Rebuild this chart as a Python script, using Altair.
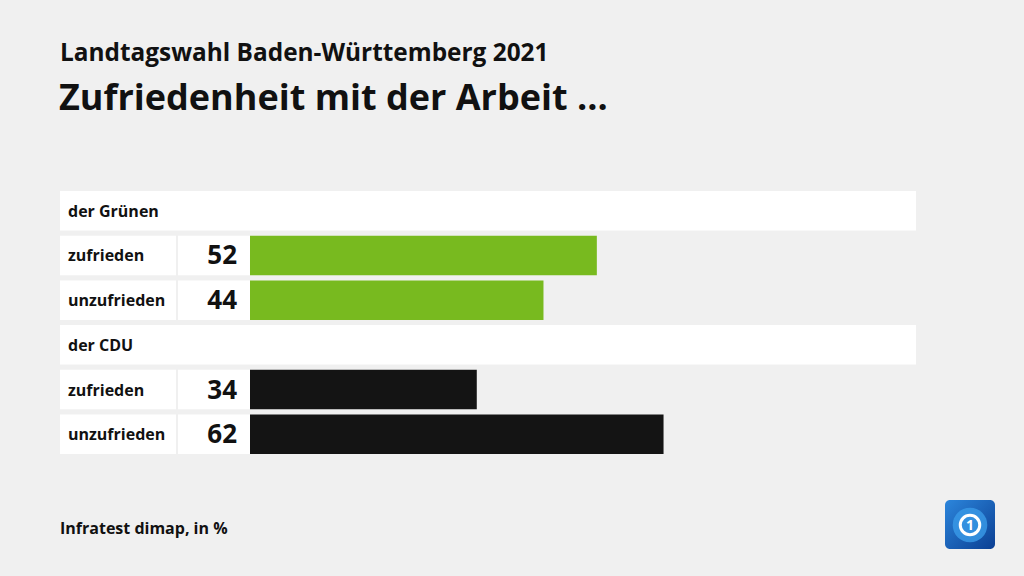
import altair as alt
import pandas as pd

# ---- data ----
title = "Landtagswahl Baden-Württemberg 2021"
subtitle = "Zufriedenheit mit der Arbeit ..."
source = "Infratest dimap, in %"
groups = ["der Grünen", "der CDU"]
answers = ["zufrieden", "unzufrieden"]
values_gruene = [52, 44]
values_cdu = [34, 62]
group_colors = ["#78ba1f", "#141414"]

FONT = "Open Sans"
values = [values_gruene, values_cdu]
rows = []
for gi, g in enumerate(groups):
    rows.append({"row": g, "kind": "header", "label": g, "value": None, "party": g})
    for ai, a in enumerate(answers):
        rows.append({"row": f"{g}|{a}", "kind": "item", "label": a,
                     "value": values[gi][ai], "party": g})
df = pd.DataFrame(rows)
order = list(df["row"])

W, H = 857, 263
y_enc = alt.Y("row:N", sort=order, axis=None,
              scale=alt.Scale(paddingInner=0.116, paddingOuter=0))

base = alt.Chart(df)
headers = base.transform_filter("datum.kind == 'header'")
items = base.transform_filter("datum.kind == 'item'")

header_box = headers.mark_rect(color="white").encode(
    y=y_enc, x=alt.value(0), x2=alt.value(856))
label_box = items.mark_rect(color="white").encode(
    y=y_enc, x=alt.value(0), x2=alt.value(116))
num_box = items.mark_rect(color="white").encode(
    y=y_enc, x=alt.value(118), x2=alt.value(190))
bars = items.mark_bar().encode(
    y=y_enc,
    x=alt.X("value:Q", axis=None,
            scale=alt.Scale(domain=[0, 100], range=[190, 857], zero=True)),
    color=alt.Color("party:N", legend=None,
                    scale=alt.Scale(domain=groups, range=group_colors)),
)
header_text = headers.mark_text(align="left", baseline="middle", font=FONT,
                                fontWeight="bold", fontSize=16, color="#111", dy=1).encode(
    y=y_enc, x=alt.value(8), text="label:N")
label_text = items.mark_text(align="left", baseline="middle", font=FONT,
                             fontWeight="bold", fontSize=16, color="#111", dy=1).encode(
    y=y_enc, x=alt.value(8), text="label:N")
num_text = items.mark_text(align="right", baseline="middle", font=FONT,
                           fontWeight="bold", fontSize=26, color="#111", dy=1).encode(
    y=y_enc, x=alt.value(177), text="value:Q")

one = pd.DataFrame({"t": [0]})
t1 = alt.Chart(pd.DataFrame({"t": [title]})).mark_text(
    align="left", baseline="alphabetic", font=FONT, fontWeight="bold",
    fontSize=24.4, color="#111").encode(text="t:N", x=alt.value(0), y=alt.value(-130))
t2 = alt.Chart(pd.DataFrame({"t": [subtitle]})).mark_text(
    align="left", baseline="alphabetic", font=FONT, fontWeight="bold",
    fontSize=36, color="#111").encode(text="t:N", x=alt.value(-1), y=alt.value(-81))
foot = alt.Chart(pd.DataFrame({"t": [source]})).mark_text(
    align="left", baseline="alphabetic", font=FONT, fontWeight="bold",
    fontSize=16, color="#111").encode(text="t:N", x=alt.value(0), y=alt.value(343))

grad = alt.LinearGradient(
    gradient="linear",
    stops=[alt.GradientStop(color="#2c86dc", offset=0),
           alt.GradientStop(color="#0b3f93", offset=1)],
    x1=0, x2=1, y1=0, y2=1)
logo_bg = alt.Chart(one).mark_rect(color=grad, cornerRadius=5).encode(
    x=alt.value(885), x2=alt.value(935), y=alt.value(309), y2=alt.value(358))
logo_globe = alt.Chart(one).mark_circle(color="#3a9be8", opacity=0.8, size=1200).encode(
    x=alt.value(910), y=alt.value(334))
logo_ring = alt.Chart(one).mark_point(shape="circle", filled=False, color="white",
                                      strokeWidth=3, size=380, opacity=1).encode(
    x=alt.value(910), y=alt.value(334))
logo_one = alt.Chart(one).mark_text(text="1", font=FONT, fontWeight="bold",
                                    fontSize=14, color="white", baseline="middle").encode(
    x=alt.value(910), y=alt.value(335))

chart = alt.layer(
    header_box, label_box, num_box, bars, header_text, label_text, num_text,
    t1, t2, foot, logo_bg, logo_globe, logo_ring, logo_one
).properties(
    width=W, height=H, background="#f0f0f0",
    autosize=alt.AutoSizeParams(type="none"),
    padding={"left": 60, "top": 191, "right": 107, "bottom": 122},
).configure_view(stroke=None)

chart.save("out.html", embed_options={"renderer": "svg", "actions": False})
